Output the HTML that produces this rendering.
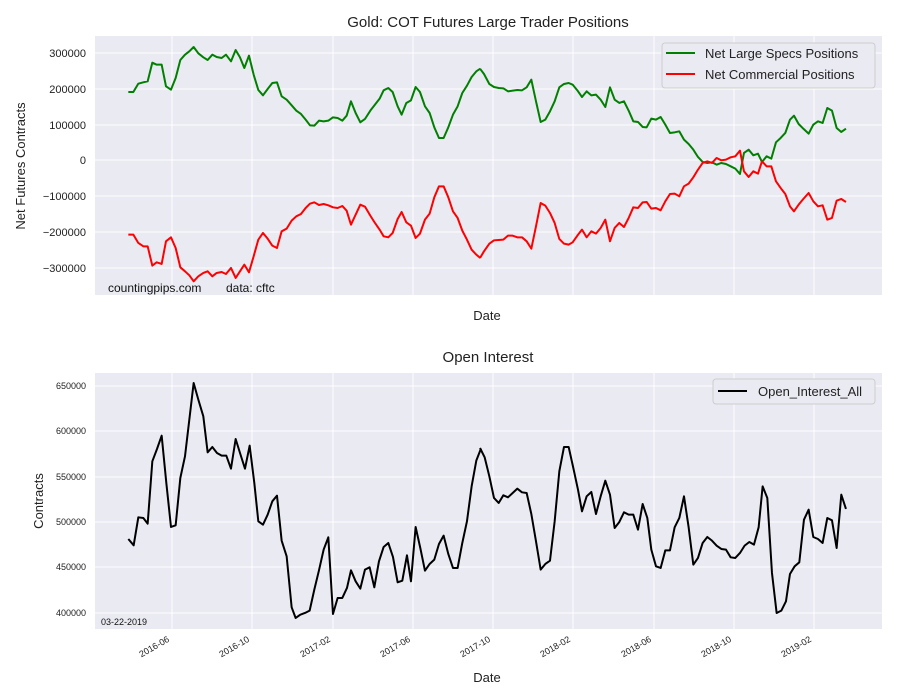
<!DOCTYPE html>
<html><head><meta charset="utf-8"><style>
body{margin:0;background:#fff;}
svg{display:block;font-family:"Liberation Sans","DejaVu Sans",sans-serif;}
</style></head><body>
<svg width="900" height="700" viewBox="0 0 900 700" xmlns="http://www.w3.org/2000/svg">
<rect width="900" height="700" fill="#fff"/>
<rect x="95" y="36" width="787" height="259" fill="#EAEAF2"/>
<g stroke="#fff" stroke-width="1">
<line x1="95" x2="882" y1="53" y2="53"/><line x1="95" x2="882" y1="89" y2="89"/><line x1="95" x2="882" y1="125" y2="125"/><line x1="95" x2="882" y1="160" y2="160"/><line x1="95" x2="882" y1="196" y2="196"/><line x1="95" x2="882" y1="232" y2="232"/><line x1="95" x2="882" y1="268" y2="268"/>
<line y1="36" y2="295" x1="172" x2="172"/><line y1="36" y2="295" x1="252" x2="252"/><line y1="36" y2="295" x1="333" x2="333"/><line y1="36" y2="295" x1="413" x2="413"/><line y1="36" y2="295" x1="493" x2="493"/><line y1="36" y2="295" x1="573" x2="573"/><line y1="36" y2="295" x1="654" x2="654"/><line y1="36" y2="295" x1="734" x2="734"/><line y1="36" y2="295" x1="814" x2="814"/>
</g>
<g font-size="11" fill="#222" text-anchor="end">
<text x="86" y="57">300000</text><text x="86" y="93">200000</text><text x="86" y="129">100000</text><text x="86" y="164">0</text><text x="86" y="200">−100000</text><text x="86" y="236">−200000</text><text x="86" y="272">−300000</text>
</g>
<text x="488" y="27" font-size="15" text-anchor="middle" fill="#222">Gold: COT Futures Large Trader Positions</text>
<text x="487" y="320" font-size="13" text-anchor="middle" fill="#222">Date</text>
<text transform="translate(25,166) rotate(-90)" font-size="13" text-anchor="middle" fill="#222">Net Futures Contracts</text>
<text x="108" y="292" font-size="12" fill="#111">countingpips.com</text>
<text x="226" y="292" font-size="12" fill="#111">data: cftc</text>

<g fill="none" stroke-width="2" stroke-linejoin="round">
<g transform="translate(95,38) scale(0.3333)">
<polyline vector-effect="non-scaling-stroke" stroke="#008000" points="100,162 115,162 130,137 145,133 158,130 172,74 185,80 200,80 213,145 228,155 242,120 256,66 270,50 283,40 296,27 310,46 325,58 338,66 352,50 365,57 380,60 393,50 408,70 422,36 435,58 448,90 462,53 476,110 490,156 504,172 518,153 532,135 546,133 560,175 575,185 590,202 604,218 618,228 632,245 645,262 658,263 672,248 686,250 700,248 714,238 728,240 742,248 755,233 768,190 782,225 796,253 810,243 826,218 840,200 854,182 866,157 880,150 893,162 908,205 920,230 934,195 948,187 962,147 975,162 990,205 1004,225 1018,268 1032,300 1046,300 1060,268 1074,230 1088,205 1102,165 1116,143 1130,117 1144,100 1156,92"/>
<polyline vector-effect="non-scaling-stroke" stroke="#ff0000" points="100,590 115,590 130,615 145,625 158,625 172,683 185,673 200,678 213,610 228,598 242,630 256,688 270,700 283,712 296,730 310,715 325,705 338,700 352,715 365,705 380,702 393,708 408,690 422,720 435,700 448,680 462,703 476,655 490,605 504,585 518,602 532,623 546,630 560,580 575,572 590,548 604,535 618,528 632,510 645,497 658,493 672,501 686,498 700,502 714,508 728,510 742,504 755,518 768,560 782,530 796,500 810,506 826,533 840,555 854,575 866,595 880,598 893,585 908,543 920,522 934,553 948,563 962,600 975,587 990,545 1004,527 1018,478 1032,445 1046,445 1060,478 1074,520 1088,540 1102,578 1116,605 1130,635 1144,650 1156,660"/>
</g>
<g transform="translate(480,38) scale(0.3333)">
<polyline vector-effect="non-scaling-stroke" stroke="#008000" points="0,92 12,108 28,138 42,147 56,150 70,151 84,160 98,158 112,156 126,157 140,148 154,125 168,190 182,252 196,245 210,220 224,190 238,148 252,138 266,135 278,140 292,157 306,177 320,160 334,172 348,170 362,185 376,207 390,148 404,185 418,195 432,190 446,218 460,250 474,252 488,267 500,268 514,242 528,245 542,237 556,260 570,285 584,283 598,280 612,305 626,318 640,335 654,357 668,372 682,375 696,373 710,380 724,375 738,378 752,385 766,392 780,408 792,345 806,335 820,352 834,347 846,372 860,355 874,362 888,313 902,300 916,285 930,245 942,233 956,258 970,272 986,287 1000,260 1014,250 1028,255 1042,210 1056,218 1070,270 1084,282 1098,272"/>
<polyline vector-effect="non-scaling-stroke" stroke="#ff0000" points="0,660 12,640 28,617 42,607 56,606 70,605 84,593 98,593 112,598 126,598 140,610 154,632 168,565 182,495 196,503 210,525 224,555 238,603 252,617 266,620 278,613 292,593 306,575 320,598 334,580 348,587 362,570 376,545 390,610 404,570 418,555 432,567 446,540 460,508 474,510 488,493 500,492 514,512 528,510 542,517 556,490 570,468 584,467 598,475 612,445 626,437 640,418 654,395 668,375 682,370 696,375 710,360 724,367 738,365 752,358 766,355 780,338 792,400 806,417 820,400 834,407 846,370 860,385 874,385 888,430 902,450 916,468 930,505 942,520 956,500 970,483 986,465 1000,490 1014,505 1028,502 1042,545 1056,540 1070,488 1084,483 1098,492"/>
</g>
</g>
<rect x="662" y="43" width="213" height="45" rx="3" fill="#EAEAF2" stroke="#ccc" stroke-width="1" opacity="0.95"/>
<line x1="666" x2="695" y1="53" y2="53" stroke="#008000" stroke-width="2"/>
<line x1="666" x2="695" y1="74" y2="74" stroke="#ff0000" stroke-width="2"/>
<text x="705" y="58" font-size="13" fill="#222">Net Large Specs Positions</text>
<text x="705" y="79" font-size="13" fill="#222">Net Commercial Positions</text>

<rect x="95" y="373" width="787" height="256" fill="#EAEAF2"/>
<g stroke="#fff" stroke-width="1">
<line x1="95" x2="882" y1="386" y2="386"/><line x1="95" x2="882" y1="431" y2="431"/><line x1="95" x2="882" y1="477" y2="477"/><line x1="95" x2="882" y1="522" y2="522"/><line x1="95" x2="882" y1="567" y2="567"/><line x1="95" x2="882" y1="613" y2="613"/>
<line y1="373" y2="629" x1="172" x2="172"/><line y1="373" y2="629" x1="252" x2="252"/><line y1="373" y2="629" x1="333" x2="333"/><line y1="373" y2="629" x1="413" x2="413"/><line y1="373" y2="629" x1="493" x2="493"/><line y1="373" y2="629" x1="573" x2="573"/><line y1="373" y2="629" x1="654" x2="654"/><line y1="373" y2="629" x1="734" x2="734"/><line y1="373" y2="629" x1="814" x2="814"/>
</g>
<g font-size="9" fill="#222" text-anchor="end">
<text x="86" y="389">650000</text><text x="86" y="434">600000</text><text x="86" y="480">550000</text><text x="86" y="525">500000</text><text x="86" y="570">450000</text><text x="86" y="616">400000</text>
</g>
<g font-size="9" fill="#222" text-anchor="end">
<text transform="translate(170,641) rotate(-30)">2016-06</text>
<text transform="translate(250,641) rotate(-30)">2016-10</text>
<text transform="translate(331,641) rotate(-30)">2017-02</text>
<text transform="translate(411,641) rotate(-30)">2017-06</text>
<text transform="translate(491,641) rotate(-30)">2017-10</text>
<text transform="translate(571,641) rotate(-30)">2018-02</text>
<text transform="translate(652,641) rotate(-30)">2018-06</text>
<text transform="translate(732,641) rotate(-30)">2018-10</text>
<text transform="translate(812,641) rotate(-30)">2019-02</text>
</g>
<text x="488" y="362" font-size="15" text-anchor="middle" fill="#222">Open Interest</text>
<text x="487" y="682" font-size="13" text-anchor="middle" fill="#222">Date</text>
<text transform="translate(43,501) rotate(-90)" font-size="13" text-anchor="middle" fill="#222">Contracts</text>
<text x="101" y="625" font-size="9" fill="#111">03-22-2019</text>
<g fill="none" stroke="#000" stroke-width="2" stroke-linejoin="round">
<g transform="translate(95,368) scale(0.3333)">
<polyline vector-effect="non-scaling-stroke" points="100,513 116,532 130,448 145,450 158,467 172,280 186,243 200,203 214,345 228,477 242,472 256,330 270,265 283,155 296,45 310,95 325,145 338,253 352,237 366,255 380,263 394,263 408,302 422,213 436,258 450,302 464,233 478,345 490,460 504,470 518,440 532,400 546,383 560,518 575,565 590,718 602,750 616,740 630,735 644,728 658,665 672,607 686,545 700,508 714,738 728,690 742,690 756,660 768,607 782,640 796,662 810,605 824,598 838,658 852,580 866,537 880,525 894,567 908,643 922,638 936,562 948,640 962,477 976,540 990,608 1004,588 1018,575 1032,528 1046,503 1060,558 1074,600 1088,600 1102,525 1116,460 1130,355 1144,278 1158,242"/>
</g>
<g transform="translate(480,368) scale(0.3333)">
<polyline vector-effect="non-scaling-stroke" points="0,240 14,268 28,325 42,390 56,405 70,382 84,388 98,375 112,362 126,373 140,375 154,438 168,520 182,605 196,588 210,578 224,460 238,310 252,237 266,237 280,300 294,365 306,430 320,385 334,372 348,438 362,385 376,338 390,380 404,480 418,462 432,433 446,440 460,440 474,485 488,408 502,450 514,545 528,595 542,600 556,547 570,547 584,478 598,450 612,385 626,478 640,590 654,570 668,525 682,507 696,518 710,533 724,543 738,545 752,568 766,570 780,555 794,533 808,522 822,530 836,478 848,355 862,390 876,615 890,735 904,728 918,700 930,618 944,595 958,583 972,455 986,425 1000,507 1014,513 1028,525 1042,450 1056,457 1070,540 1084,380 1098,423"/>
</g>
</g>
<rect x="713" y="379" width="162" height="25" rx="3" fill="#EAEAF2" stroke="#ccc" stroke-width="1" opacity="0.95"/>
<line x1="718" x2="747" y1="391" y2="391" stroke="#000" stroke-width="2"/>
<text x="758" y="396" font-size="13" fill="#222">Open_Interest_All</text>
</svg>
</body></html>
